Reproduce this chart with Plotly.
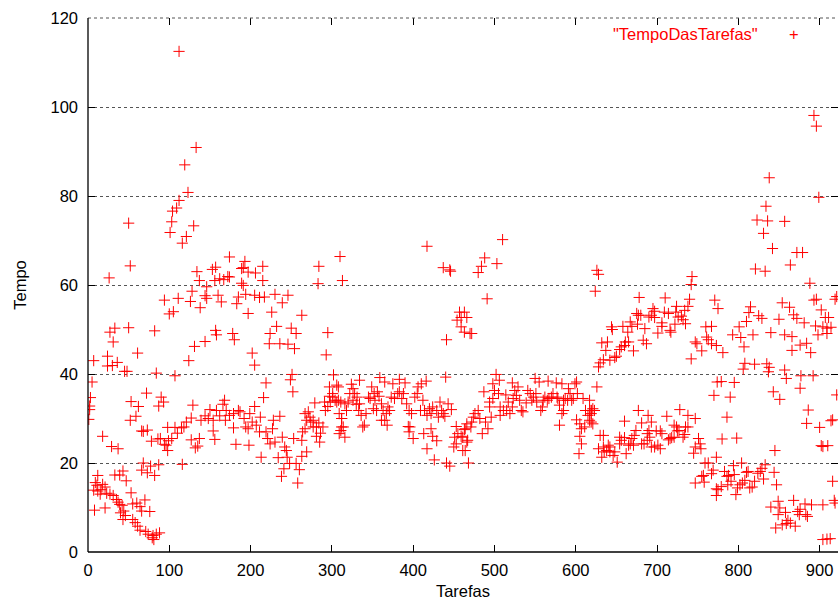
import plotly.graph_objects as go

# ---- data: (task index, time), grouped by x-range ----
tarefas_a = [112,133,119,123,112,109,104,103,101,121,116,130,50,52,26,134,137,153,157,156,146,128,126,144,146,138,111,94,105,100,
             50,33,27,31,82,131,144,157,158,124,61,7,24,24,30,36,45,48,84,107,
             5,3,2,2,1,53,62,72,90,93,87,129,150,144,139,148,154,154,156,127,121,118,115,107,98,110,103,99,96,98,94,89,86,78,73,68,66,59,52,18,29,37,116,127,132,137,135,
             68,87,66,77,73,82,43,39,33,47,12,9,11,18,7,12,16,21,15,23,27,31,35,37,39,42,53,70,64,60,55,66,76,44,40,46,43,8,21,55,58,61,64,71,74,79,81,84,88,80]
tempo_a = [112.5,90.9,87.0,80.8,79.0,77.3,76.6,74.2,71.8,70.9,69.4,73.3,73.9,64.3,61.6,63.0,61.0,63.5,64.0,61.0,59.6,58.6,56.3,57.6,57.0,54.9,57.0,56.6,54.0,53.5,
           50.4,50.3,49.4,47.2,49.7,46.2,47.3,49.8,48.8,43.0,44.7,43.0,44.0,41.8,41.9,42.6,40.6,40.6,40.2,39.6,
           38.2,34.7,32.8,32.0,29.8,33.8,32.7,35.7,34.8,33.7,32.8,33.0,32.0,30.6,29.6,30.0,29.6,27.2,25.3,30.1,29.2,28.1,27.9,28.0,28.0,26.7,25.5,25.0,24.0,22.8,24.2,25.5,25.4,24.9,27.4,27.1,27.2,30.5,29.6,26.0,23.7,23.2,19.7,25.2,23.4,25.5,23.8,
           20.0,19.6,18.4,19.3,17.8,17.2,18.2,17.3,17.3,16.0,17.2,15.6,15.0,15.2,13.9,13.7,14.0,14.6,13.0,13.2,13.0,12.7,11.8,11.2,10.7,10.5,13.3,11.7,10.2,11.0,10.8,9.2,9.1,9.2,8.8,8.2,7.3,9.4,9.9,7.3,6.6,5.8,4.9,4.6,4.0,3.2,2.8,4.0,4.3,3.7]

tarefas_b = [174,193,189,191,197,206,215,172,174,162,167,189,191,215,284,283,310,313,160,164,185,183,194,205,211,217,230,246,239,197,226,263,232,250,256,224,223,236,246,254,178,180,202,205,295,293,251,249,252,219,216,302,306,297,
             168,166,158,162,170,169,174,179,185,187,192,199,205,212,202,207,197,194,211,219,221,228,236,227,230,224,239,242,253,179,182,198,213,234,244,245,241,238,248,256,260,258,263,269,264,263,267,269,267,271,273,274,277,279,277,281,284,286,281,285,289,292,291,295,297,301,301,304,306,309,309,312,312,298]
tempo_b = [66.3,65.3,63.7,63.9,62.9,62.7,64.2,61.9,61.8,61.4,61.2,60.4,59.9,61.0,64.2,60.3,66.4,61.0,57.7,56.2,57.3,55.8,57.9,57.7,57.2,57.3,57.9,57.7,56.0,53.6,53.9,53.2,50.7,50.3,49.1,49.1,46.8,46.8,46.7,45.7,49.1,47.7,44.7,42.0,49.3,44.3,39.9,38.7,36.0,38.0,34.7,39.8,37.5,37.1,
           34.1,33.2,31.8,30.6,31.8,29.6,30.7,31.1,31.8,31.5,30.0,31.1,32.7,30.3,29.2,28.5,27.7,28.1,27.0,27.0,25.5,29.6,30.5,27.7,24.7,24.3,25.8,23.6,25.5,27.9,24.2,24.0,21.3,21.2,22.8,21.3,18.7,17.0,19.9,19.9,18.5,15.5,21.5,22.5,27.0,25.1,27.7,29.6,31.1,31.5,30.3,29.2,29.6,33.5,28.1,28.1,29.0,26.7,26.0,24.7,28.1,31.8,33.7,32.7,35.0,35.6,34.8,34.1,33.7,31.1,26.6,30.0,28.1,33.7]

tarefas_c = [417,437,445,446,457,463,459,454,466,459,463,441,440,
             308,308,311,316,320,318,322,326,324,328,331,334,330,326,334,333,336,342,338,340,312,314,316,311,345,347,349,352,353,356,358,359,365,351,355,361,363,361,365,368,367,371,369,373,375,377,381,383,383,386,390,388,392,395,398,396,395,400,394,402,405,406,410,416,412,409,414,417,420,422,424,429,433,435,431,437,439,443,447,422,424,429,417,426,413,441,445,453,455,451,453,450,459,461,463,466,467]
tempo_c = [68.7,63.9,63.4,63.1,53.9,53.9,52.7,52.1,52.7,50.6,49.4,47.7,39.3,
           37.1,34.1,33.7,33.3,33.7,31.8,35.6,36.7,37.7,35.6,34.8,38.6,33.2,34.1,33.3,31.8,30.7,31.1,28.1,28.5,30.0,28.1,25.8,27.3,34.8,34.5,37.1,35.6,34.1,36.0,35.0,39.2,38.2,32.2,31.8,33.3,31.8,29.6,29.6,28.5,31.1,31.8,32.6,34.8,37.8,34.5,35.6,36.0,38.8,34.5,38.0,35.6,33.3,31.8,31.1,28.1,27.0,25.5,28.2,34.8,35.6,37.1,37.8,38.4,34.1,31.8,31.8,30.7,32.2,31.1,32.6,31.8,33.7,31.8,30.3,31.1,30.5,33.3,32.0,27.7,26.0,25.0,23.2,20.7,26.6,20.0,19.3,28.2,26.6,25.8,24.3,23.6,26.0,22.8,27.5,28.8,25.1]

tarefas_d = [510,488,484,480,503,491,470,472,
             468,464,461,466,464,471,472,474,476,480,482,485,489,492,496,494,494,498,487,498,502,506,505,500,507,507,511,515,517,514,519,522,523,522,525,527,529,531,533,535,539,541,544,546,548,550,551,552,555,557,559,560,562,566,565,567,570,572,576,577,580,578,583,585,587,590,591,593,595,597,599,601,602,580,583,585,601,605,607,611,605,607,604,609,612,617,619,615,621,619]
tempo_d = [70.2,66.1,64.2,62.8,64.8,56.9,49.1,49.1,
           20.0,22.8,25.8,24.7,27.7,28.1,29.2,30.3,31.1,31.8,30.0,26.6,29.2,27.7,30.3,32.6,33.7,34.5,36.0,37.8,39.9,38.6,35.6,36.3,32.6,30.7,31.8,31.8,33.7,35.3,31.1,32.6,34.5,38.0,36.3,35.2,37.1,34.1,31.8,31.5,33.5,36.3,35.6,34.1,34.8,39.0,35.6,33.7,38.2,31.8,32.6,34.1,34.8,38.4,34.1,34.5,34.8,35.6,38.0,34.8,33.0,34.5,37.8,34.1,34.5,34.1,36.7,35.6,34.1,34.5,37.8,38.2,35.6,28.5,31.1,31.8,29.7,28.8,27.7,28.1,26.0,24.3,22.1,34.5,31.8,31.8,31.8,30.7,28.8,31.1]

tarefas_e = [626,628,624,743,742,771,775,678,710,740,738,724,723,734,730,732,735,726,722,714,709,706,706,701,716,717,697,695,693,690,697,685,683,687,675,677,680,667,669,676,664,658,644,645,632,639,637,656,660,661,665,654,650,648,671,642,634,630,628,742,747,749,755,761,763,767,773,760,767,770,774,
             626,617,619,621,623,617,619,677,660,681,689,693,690,688,699,704,706,712,721,724,728,727,735,738,747,738,732,734,714,716,718,721,725,751,753,747,745,754,674,672,669,667,665,671,681,684,688,691,693,697,701,704,654,656,654,660,662,651,648,646,642,640,638,634,632,630,634,628,635,642,
             759,763,757,755,758,747,767,769,773,773,773]
tempo_e = [63.3,62.4,58.6,61.9,60.1,56.6,54.7,57.2,57.1,56.8,55.2,55.2,53.9,54.3,53.0,52.2,51.3,52.8,51.2,53.6,53.9,51.5,50.7,49.2,49.8,49.4,54.1,54.7,53.2,52.8,52.7,50.2,47.6,46.8,53.6,53.2,53.2,51.7,50.7,51.2,49.4,50.7,50.6,50.0,47.0,47.2,45.3,46.1,46.4,47.2,47.2,45.5,44.0,43.7,45.2,43.1,43.2,42.5,41.6,43.4,47.2,46.8,45.2,48.3,47.7,46.8,46.4,50.6,50.7,35.2,38.2,
           37.1,34.1,31.8,32.2,31.8,29.6,29.2,31.8,29.4,29.0,30.7,29.2,27.3,26.6,27.2,27.2,26.6,30.5,28.5,28.1,32.0,27.3,28.1,30.7,30.0,28.1,25.8,26.4,25.2,25.5,25.7,25.8,27.2,25.5,24.3,23.6,22.2,23.2,27.3,26.2,25.5,24.3,24.0,24.0,24.3,24.3,25.1,25.8,23.6,23.6,24.0,23.2,25.8,25.1,24.3,25.7,22.1,20.2,22.5,21.7,23.6,24.0,22.8,23.6,21.3,26.2,26.2,23.2,22.5,22.5,
           20.0,20.0,17.2,17.0,15.7,15.5,17.6,18.4,21.3,14.2,12.7]

tarefas_f = [893,896,838,899,834,823,836,857,831,842,872,879,864,821,833,888,893,896,919,921,902,815,813,854,863,825,829,850,868,872,881,907,911,801,810,895,904,909,914,909,793,803,818,840,857,866,898,807,781,876,884,866,889,808,806,820,835,838,837,857,859,877,892,779,795,921,790,843,851,876,886,884,900,914,916,902,904,910,786,780,798,845,
             775,779,783,786,788,791,787,794,795,797,799,802,804,805,808,810,812,814,817,820,824,827,829,833,831,844,847,849,840,851,849,858,861,859,854,846,864,868,870,873,876,875,882,885,883,890,904,919,916,918,904,909,913]
tempo_f = [98.1,95.7,84.1,79.7,77.7,74.6,74.4,74.3,71.6,68.2,67.3,67.3,64.5,63.6,63.1,60.4,56.6,56.8,56.8,57.4,54.4,55.1,53.8,56.0,55.0,53.1,52.5,52.3,53.3,52.5,51.5,52.7,52.7,50.6,51.8,50.8,50.6,50.3,50.5,49.1,48.8,48.2,48.8,49.3,48.8,48.4,48.8,46.1,44.8,46.5,46.9,45.3,44.8,42.4,41.1,42.2,42.3,41.5,40.5,40.9,39.0,39.6,39.6,38.3,38.1,35.3,34.8,36.0,34.3,36.8,31.9,28.9,28.0,29.5,29.7,23.9,23.7,23.9,30.3,25.4,25.6,22.8,
           14.0,14.7,18.1,17.0,17.2,15.9,15.1,19.4,17.4,12.9,14.4,15.1,20.0,15.5,16.1,17.9,18.1,14.4,14.6,15.9,17.7,18.1,18.8,19.6,16.4,17.9,15.1,11.4,10.1,9.9,8.4,8.9,7.1,6.4,6.1,5.4,6.5,11.6,5.8,9.1,9.6,8.4,10.8,8.0,8.4,10.6,10.6,11.0,15.9,11.6,2.8,2.9,3.0]

serie_nome = '"TempoDasTarefas"'
titulo_x = "Tarefas"
titulo_y = "Tempo"

x_vals = tarefas_a + tarefas_b + tarefas_c + tarefas_d + tarefas_e + tarefas_f
y_vals = tempo_a + tempo_b + tempo_c + tempo_d + tempo_e + tempo_f

FONT = "Liberation Sans, Arial, Helvetica, sans-serif"
FS = 16.5

fig = go.Figure()
fig.add_trace(go.Scatter(
    x=x_vals, y=y_vals, mode="markers", name=serie_nome, showlegend=False,
    marker=dict(symbol="cross-thin", size=8, line=dict(color="#ff0000", width=1), color="#ff0000"),
))

axis_common = dict(
    showline=False, zeroline=False, mirror="ticks", ticks="inside", ticklen=7,
    tickwidth=1, tickcolor="#000000", tickfont=dict(family=FONT, size=FS, color="#000000"),
)

fig.update_layout(
    width=838, height=605,
    margin=dict(l=88, r=0, t=18, b=53, pad=0),
    paper_bgcolor="white", plot_bgcolor="white",
    font=dict(family=FONT, size=FS, color="#000000"),
    xaxis=dict(range=[0, 922.6], tick0=0, dtick=100, showgrid=False,
               title=dict(text=titulo_x, font=dict(family=FONT, size=FS), standoff=7),
               ticklabelstandoff=6, **axis_common),
    yaxis=dict(range=[0, 120], tick0=0, dtick=20, showgrid=True, gridcolor="#555555",
               griddash="dot", gridwidth=1,
               title=dict(text=titulo_y, font=dict(family=FONT, size=FS), standoff=19),
               ticklabelstandoff=9, **axis_common),
    shapes=[
        dict(type="line", xref="paper", yref="paper", x0=0, x1=1, y0=1, y1=1,
             line=dict(color="#555555", width=1, dash="dot")),
        dict(type="line", xref="paper", yref="paper", x0=0, x1=1, y0=0, y1=0,
             line=dict(color="#000000", width=1.3)),
        dict(type="line", xref="paper", yref="paper", x0=0, x1=0, y0=0, y1=1,
             line=dict(color="#000000", width=1.3)),
    ],
    annotations=[
        dict(xref="paper", yref="paper", x=0.896, y=0.970, xanchor="right", yanchor="middle",
             text=serie_nome, showarrow=False, font=dict(family=FONT, size=FS, color="#ff0000")),
        dict(xref="paper", yref="paper", x=0.941, y=0.970, xanchor="center", yanchor="middle",
             text="+", showarrow=False, font=dict(family=FONT, size=FS, color="#ff0000")),
    ],
)

fig.write_html("out.html")
